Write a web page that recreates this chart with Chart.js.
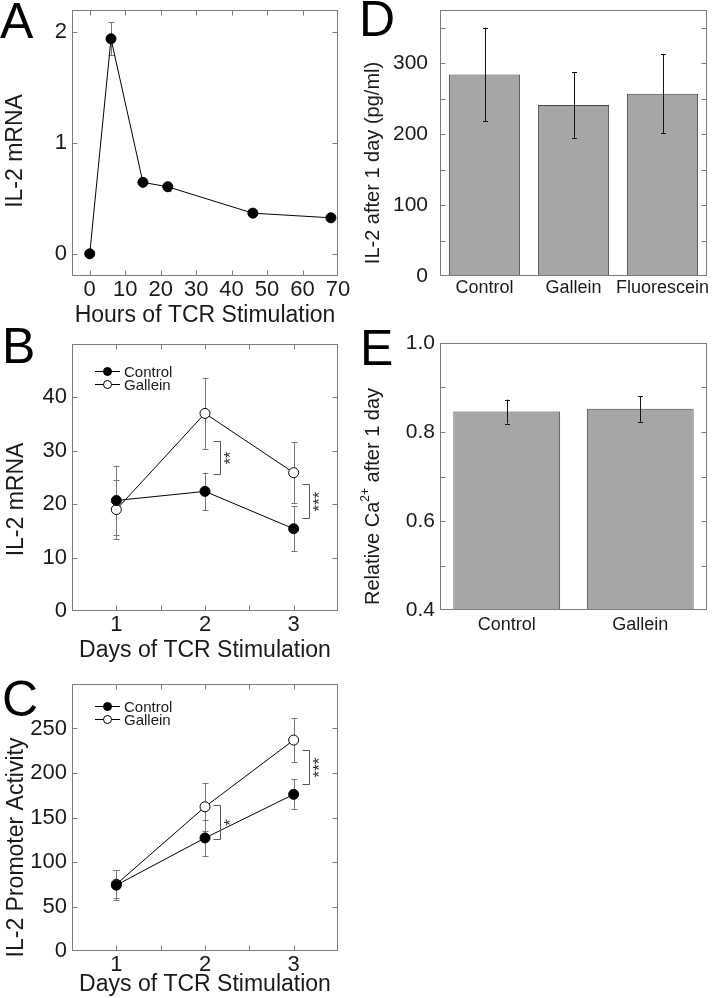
<!DOCTYPE html>
<html><head><meta charset="utf-8">
<script src="https://cdn.jsdelivr.net/npm/chart.js@4.4.1/dist/chart.umd.min.js"></script>
<style>
html,body{margin:0;padding:0;background:#fff}
body{width:713px;height:998px;position:relative;overflow:hidden}
canvas{position:absolute}
.pl{position:absolute;font-family:'Liberation Sans',Arial,sans-serif;font-size:50px;line-height:1;color:#000}
</style></head>
<body>
<div class="pl" style="left:0;top:-4px">A</div>
<div class="pl" style="left:2px;top:321px">B</div>
<div class="pl" style="left:2px;top:674px">C</div>
<div class="pl" style="left:359px;top:-6px">D</div>
<div class="pl" style="left:360px;top:323px">E</div>
<canvas id="cA" width="355" height="330" style="left:0;top:0"></canvas>
<canvas id="cB" width="355" height="335" style="left:0;top:330px"></canvas>
<canvas id="cC" width="355" height="333" style="left:0;top:665px"></canvas>
<canvas id="cD" width="358" height="330" style="left:355px;top:0"></canvas>
<canvas id="cE" width="358" height="330" style="left:355px;top:330px"></canvas>
<script>
// ---------- DATA ----------
// Panel A
const aHours = [0, 6, 15, 22, 46, 68];
const aMrna = [0, 1.94, 0.645, 0.605, 0.367, 0.325];
const aErr = [0.01, 0.15, 0.02, 0.04, 0.015, 0.012];
const aXTicks = [0, 10, 20, 30, 40, 50, 60, 70];
const aXLabels = ['0', '10', '20', '30', '40', '50', '60', '70'];
const aYTicks = [0, 1, 2];
const aYLabels = ['0', '1', '2'];
// Panels B, C
const days = [1, 2, 3];
const dayTicks = [1, 1.5, 2, 2.5, 3];
const dayLabels = ['1', '', '2', '', '3'];
const bControl = [20.7, 22.4, 15.4];
const bControlErr = [6.5, 3.5, 4.2];
const bGallein = [19.0, 37.0, 25.9];
const bGalleinErr = [5.5, 6.7, 5.7];
const bYTicks = [0, 10, 20, 30, 40, 50];
const bYLabels = ['0', '10', '20', '30', '40', ''];
const bSig = [{x: 2, lo: 25.6, hi: 31.8, text: '**'}, {x: 3, lo: 17.4, hi: 23.7, text: '***'}];
const cControl = [74, 127, 176];
const cControlErr = [17, 20.5, 17];
const cGallein = [75, 162, 237];
const cGalleinErr = [16, 27, 24.5];
const cYTicks = [0, 50, 100, 150, 200, 250, 300];
const cYLabels = ['0', '50', '100', '150', '200', '250', ''];
const cSig = [{x: 2, lo: 126, hi: 164, text: '*'}, {x: 3, lo: 188, hi: 226, text: '***'}];
// Panel D
const dCats = ['Control', 'Gallein', 'Fluorescein'];
const dValues = [284, 241, 257];
const dErr = [66, 46, 56];
const dYTicks = [0, 50, 100, 150, 200, 250, 300, 350];
const dYLabels = ['0', '', '100', '', '200', '', '300', ''];
// Panel E
const eCats = ['Control', 'Gallein'];
const eValues = [0.846, 0.852];
const eErr = [0.027, 0.029];
const eYTicks = [0.4, 0.5, 0.6, 0.7, 0.8, 0.9, 1.0];
const eYLabels = ['0.4', '', '0.6', '', '0.8', '', '1.0'];

// ---------- STYLE / PLUGINS ----------
const FONT = "'Liberation Sans', Arial, sans-serif";
const TXT = '#1a1a1a';
const FRAME = '#7a7a7a';

const framePlugin = {
  id: 'frame',
  afterDraw(chart, args, o) {
    const {ctx, chartArea: a, scales} = chart;
    const L = Math.round(a.left) + 0.5, R = Math.round(a.right) - 0.5;
    const T = Math.round(a.top) + 0.5, B = Math.round(a.bottom) - 0.5;
    ctx.save();
    ctx.strokeStyle = FRAME; ctx.lineWidth = 1;
    ctx.beginPath();
    const tl = o.tick || 5;
    if (o.xTicks) {
      for (const t of scales.x.ticks) {
        const px = Math.round(scales.x.getPixelForValue(t.value)) + 0.5;
        if (px <= L + 1 || px >= R - 1) continue;
        ctx.moveTo(px, B); ctx.lineTo(px, B - tl);
        ctx.moveTo(px, T); ctx.lineTo(px, T + tl);
      }
    }
    for (const t of scales.y.ticks) {
      const py = Math.round(scales.y.getPixelForValue(t.value)) + 0.5;
      if (py <= T + 1 || py >= B - 1) continue;
      ctx.moveTo(L, py); ctx.lineTo(L + tl, py);
      ctx.moveTo(R, py); ctx.lineTo(R - tl, py);
    }
    ctx.stroke();
    ctx.strokeRect(L, T, R - L, B - T);
    ctx.restore();
  }
};

function drawErrors(chart, o) {
  const {ctx, scales} = chart;
  ctx.save();
  ctx.strokeStyle = o.color; ctx.lineWidth = 1;
  chart.data.datasets.forEach((ds, i) => {
    if (!ds.errors) return;
    const meta = chart.getDatasetMeta(i);
    meta.data.forEach((el, j) => {
      const d = ds.data[j];
      const v = (typeof d === 'object') ? d.y : d;
      const e = ds.errors[j];
      const x = Math.round(el.x) + 0.5;
      const y1 = scales.y.getPixelForValue(v + e);
      const y2 = scales.y.getPixelForValue(v - e);
      ctx.beginPath();
      ctx.moveTo(x, y1); ctx.lineTo(x, y2);
      ctx.moveTo(x - o.cap, Math.round(y1) + 0.5); ctx.lineTo(x + o.cap, Math.round(y1) + 0.5);
      ctx.moveTo(x - o.cap, Math.round(y2) + 0.5); ctx.lineTo(x + o.cap, Math.round(y2) + 0.5);
      ctx.stroke();
    });
  });
  ctx.restore();
}
const errPlugin = {
  id: 'errbars',
  beforeDatasetsDraw(chart, args, o) { if (o.layer === 'before') drawErrors(chart, o); },
  afterDatasetsDraw(chart, args, o) { if (o.layer === 'after') drawErrors(chart, o); }
};

const yTitlePlugin = {
  id: 'ytitle',
  afterDraw(chart, args, o) {
    if (!o.text) return;
    const {ctx, chartArea: a} = chart;
    ctx.save();
    ctx.translate(o.x, (a.top + a.bottom) / 2 + o.dy);
    ctx.rotate(-Math.PI / 2);
    ctx.font = o.size + 'px ' + FONT;
    ctx.fillStyle = TXT; ctx.textAlign = 'center'; ctx.textBaseline = 'middle';
    if (o.sup) {
      const small = Math.round(o.size * 0.62) + 'px ' + FONT;
      const w0 = ctx.measureText(o.text[0]).width;
      const w2 = ctx.measureText(o.text[2]).width;
      ctx.font = small; const w1 = ctx.measureText(o.text[1]).width;
      const tot = w0 + w1 + w2;
      let x = -tot / 2;
      ctx.textAlign = 'left';
      ctx.font = o.size + 'px ' + FONT; ctx.fillText(o.text[0], x, 0); x += w0;
      ctx.font = small; ctx.fillText(o.text[1], x, -o.size * 0.38); x += w1;
      ctx.font = o.size + 'px ' + FONT; ctx.fillText(o.text[2], x, 0);
    } else {
      ctx.fillText(o.text, 0, 0);
    }
    ctx.restore();
  }
};

const legendPlugin = {
  id: 'inlegend',
  afterDraw(chart, args, o) {
    if (o.x === undefined) return;
    const {ctx, chartArea: a} = chart;
    ctx.save();
    ctx.font = o.size + 'px ' + FONT;
    chart.data.datasets.forEach((ds, i) => {
      const y = Math.round(a.top + o.y + i * o.dy) + 0.5;
      const x0 = a.left + o.x;
      ctx.strokeStyle = '#000'; ctx.lineWidth = 1;
      ctx.beginPath(); ctx.moveTo(x0, y); ctx.lineTo(x0 + o.len, y); ctx.stroke();
      ctx.beginPath(); ctx.arc(x0 + o.len / 2, y, o.r, 0, Math.PI * 2);
      ctx.fillStyle = ds.pointBackgroundColor; ctx.fill(); ctx.stroke();
      ctx.fillStyle = TXT; ctx.textAlign = 'left'; ctx.textBaseline = 'middle';
      ctx.fillText(ds.label, x0 + o.len + o.gap, y + 1);
    });
    ctx.restore();
  }
};

const bracketPlugin = {
  id: 'brackets',
  afterDraw(chart, args, o) {
    if (!o.items) return;
    const {ctx, scales} = chart;
    ctx.save();
    ctx.strokeStyle = '#555'; ctx.lineWidth = 1;
    for (const b of o.items) {
      const px = Math.round(scales.x.getPixelForValue(b.x) + o.dx) + 0.5;
      const y1 = Math.round(scales.y.getPixelForValue(b.lo)) + 0.5;
      const y2 = Math.round(scales.y.getPixelForValue(b.hi)) + 0.5;
      ctx.beginPath();
      ctx.moveTo(px - o.stub, y1); ctx.lineTo(px, y1); ctx.lineTo(px, y2); ctx.lineTo(px - o.stub, y2);
      ctx.stroke();
      ctx.save();
      ctx.translate(px + o.tx, (y1 + y2) / 2);
      ctx.rotate(-Math.PI / 2);
      ctx.font = o.size + 'px ' + FONT; ctx.fillStyle = '#333';
      ctx.textAlign = 'center'; ctx.textBaseline = 'middle';
      ctx.fillText(b.text, 0, 0);
      ctx.restore();
    }
    ctx.restore();
  }
};
Chart.register(framePlugin, errPlugin, yTitlePlugin, legendPlugin, bracketPlugin);

function fixAxis(size, horizontal) {
  return (s) => {
    if (horizontal) s.height = size; else s.width = size;
    s.paddingTop = 0; s.paddingBottom = 0; s.paddingLeft = 0; s.paddingRight = 0;
  };
}
function setTicks(values) {
  return (s) => { s.ticks = values.map(v => ({value: v})); };
}
function linAxis(opts) {
  return Object.assign({
    type: 'linear',
    grid: {display: false, drawTicks: false},
    border: {display: false},
  }, opts);
}
function tickFont(size, pad, labels) {
  const t = {font: {family: FONT, size: size}, color: TXT, padding: pad, autoSkip: false, maxRotation: 0};
  if (labels) t.callback = (v, i) => labels[i];
  return t;
}
function xTitle(text, size, pb) {
  return {display: true, text: text, color: TXT, font: {family: FONT, size: size}, padding: {top: 0, bottom: pb}};
}
const common = {responsive: false, animation: false, devicePixelRatio: 1};

// ---------- PANEL A ----------
new Chart(document.getElementById('cA'), {
  type: 'line',
  data: {datasets: [{
    label: 'IL-2 mRNA',
    data: aHours.map((h, i) => ({x: h, y: aMrna[i]})),
    errors: aErr,
    borderColor: '#000', borderWidth: 1, tension: 0,
    pointRadius: 5, pointBackgroundColor: '#000', pointBorderColor: '#000', pointBorderWidth: 1
  }]},
  options: Object.assign({}, common, {
    layout: {padding: {top: 10, right: 17, left: 0, bottom: 0}},
    plugins: {
      legend: {display: false}, tooltip: {enabled: false},
      frame: {xTicks: true, tick: 5},
      errbars: {layer: 'before', color: '#777', cap: 3},
      ytitle: {text: 'IL-2 mRNA', x: 16, dy: 8, size: 23}
    },
    scales: {
      x: linAxis({min: -5, max: 70, afterBuildTicks: setTicks(aXTicks), afterFit: fixAxis(54, true),
        ticks: tickFont(22, 1, aXLabels), title: xTitle('Hours of TCR Stimulation', 23, 1)}),
      y: linAxis({min: -0.2, max: 2.2, afterBuildTicks: setTicks(aYTicks), afterFit: fixAxis(72, false),
        ticks: tickFont(22, 5, aYLabels)})
    }
  })
});

// ---------- PANELS B & C ----------
function dayChart(id, ctrl, ctrlErr, gal, galErr, yTicks, yLabels, ymax, sig, padTop, xH, yTitle, yDy, legY, xTitlePb) {
  return new Chart(document.getElementById(id), {
    type: 'line',
    data: {datasets: [
      {label: 'Control', data: days.map((d, i) => ({x: d, y: ctrl[i]})), errors: ctrlErr,
        borderColor: '#000', borderWidth: 1, tension: 0,
        pointRadius: 5, pointBackgroundColor: '#000', pointBorderColor: '#000', pointBorderWidth: 1},
      {label: 'Gallein', data: days.map((d, i) => ({x: d, y: gal[i]})), errors: galErr,
        borderColor: '#000', borderWidth: 1, tension: 0,
        pointRadius: 5, pointBackgroundColor: '#fff', pointBorderColor: '#000', pointBorderWidth: 1}
    ]},
    options: Object.assign({}, common, {
      layout: {padding: {top: padTop, right: 17, left: 0, bottom: 0}},
      plugins: {
        legend: {display: false}, tooltip: {enabled: false},
        frame: {xTicks: true, tick: 5},
        errbars: {layer: 'before', color: '#777', cap: 3},
        ytitle: {text: yTitle, x: 17, dy: yDy, size: 23},
        inlegend: {x: 23, y: legY, dy: 13, len: 25, r: 4, gap: 4, size: 15},
        brackets: {items: sig, dx: 15, stub: 7, tx: 11, size: 17}
      },
      scales: {
        x: linAxis({min: 0.5, max: 3.5, afterBuildTicks: setTicks(dayTicks), afterFit: fixAxis(xH, true),
          ticks: tickFont(22, 1, dayLabels), title: xTitle('Days of TCR Stimulation', 23, xTitlePb)}),
        y: linAxis({min: 0, max: ymax, afterBuildTicks: setTicks(yTicks), afterFit: fixAxis(72, false),
          ticks: tickFont(22, 5, yLabels)})
      }
    })
  });
}
dayChart('cB', bControl, bControlErr, bGallein, bGalleinErr, bYTicks, bYLabels, 50, bSig, 14, 54, 'IL-2 mRNA', 22, 27, 1);
dayChart('cC', cControl, cControlErr, cGallein, cGalleinErr, cYTicks, cYLabels, 300, cSig, 19, 47, 'IL-2 Promoter Activity', 30, 22, 0);

// ---------- PANELS D & E ----------
function barChart(id, cats, vals, errs, ymin, ymax, yTicks, yLabels, padTop, xH, xPad, yPad, yTitle, yDy, sup) {
  return new Chart(document.getElementById(id), {
    type: 'bar',
    data: {labels: cats, datasets: [{label: 'value', data: vals, errors: errs,
      backgroundColor: '#a6a6a6', borderColor: '#444', borderWidth: 1,
      barPercentage: 0.8, categoryPercentage: 1}]},
    options: Object.assign({}, common, {
      layout: {padding: {top: padTop, right: 6, left: 0, bottom: 0}},
      plugins: {
        legend: {display: false}, tooltip: {enabled: false},
        frame: {xTicks: false, tick: 5},
        errbars: {layer: 'after', color: '#111', cap: 2.5},
        ytitle: {text: yTitle, sup: sup, x: 18, dy: yDy, size: 20}
      },
      scales: {
        x: {type: 'category', grid: {display: false, drawTicks: false}, border: {display: false},
          afterFit: fixAxis(xH, true), ticks: tickFont(18, xPad)},
        y: linAxis({min: ymin, max: ymax, afterBuildTicks: setTicks(yTicks), afterFit: fixAxis(85, false),
          ticks: tickFont(21, yPad, yLabels)})
      }
    })
  });
}
barChart('cD', dCats, dValues, dErr, 0, 375, dYTicks, dYLabels, 10, 54, 1, 12, 'IL-2 after 1 day (pg/ml)', 20, false);
barChart('cE', eCats, eValues, eErr, 0.4, 1.0, eYTicks, eYLabels, 13, 50, 4, 5, ['Relative Ca', '2+', ' after 1 day'], 20, true);
</script>
</body></html>
